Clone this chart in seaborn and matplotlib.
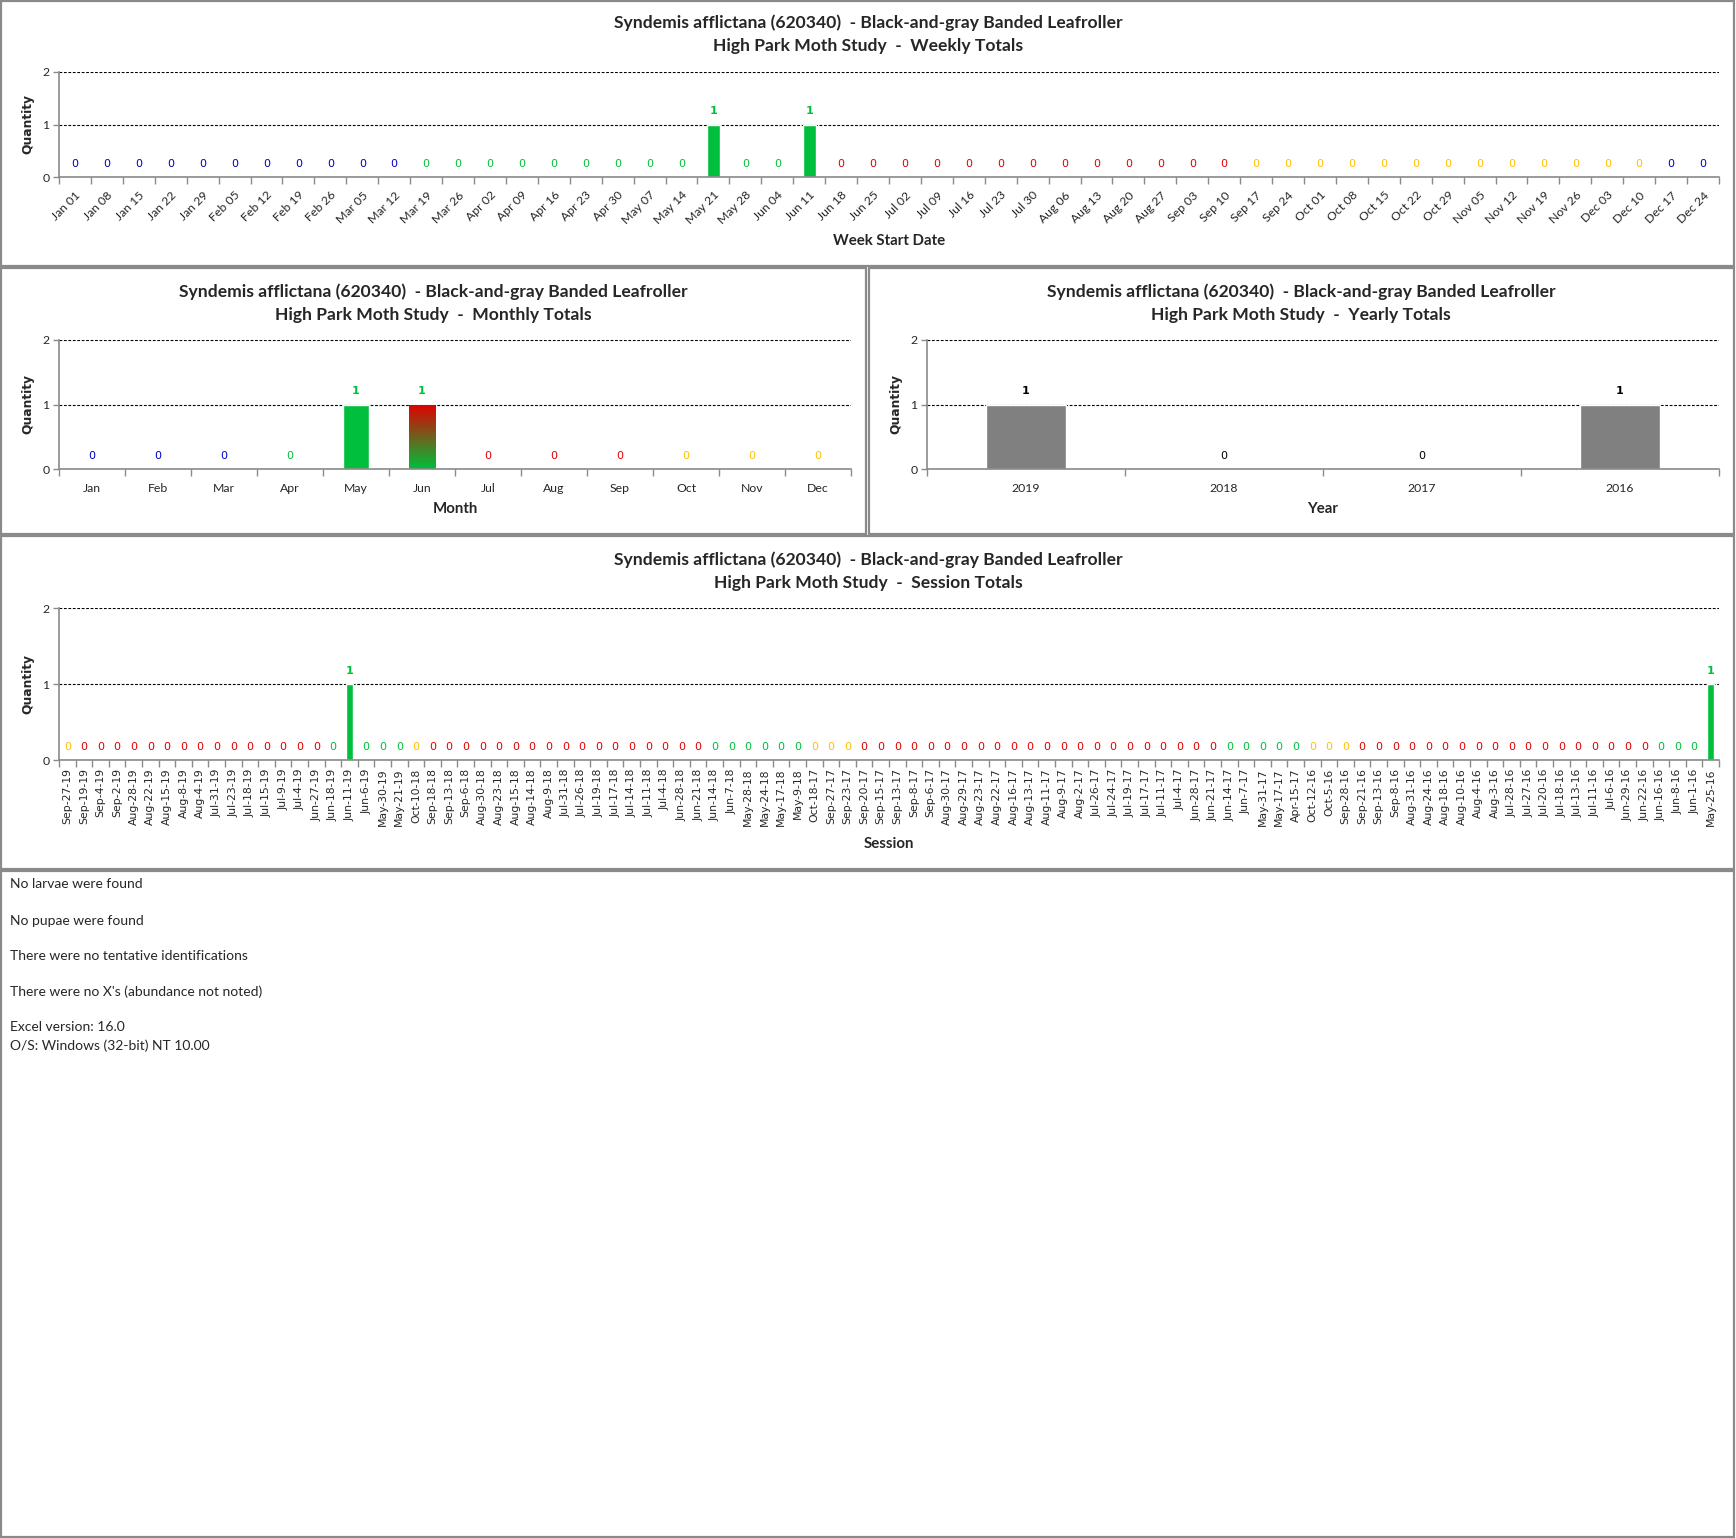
import datetime as dt
import numpy as np
import matplotlib
matplotlib.use("Agg")
import matplotlib.pyplot as plt
from matplotlib.colors import LinearSegmentedColormap
from matplotlib.patches import Rectangle
import seaborn as sns

# -------------------------
# Data
# -------------------------
title_1 = "Syndemis afflictana (620340)  - Black-and-gray Banded Leafroller"

week_labels = [
    "Jan 01", "Jan 08", "Jan 15", "Jan 22", "Jan 29", "Feb 05", "Feb 12", "Feb 19",
    "Feb 26", "Mar 05", "Mar 12", "Mar 19", "Mar 26", "Apr 02", "Apr 09", "Apr 16",
    "Apr 23", "Apr 30", "May 07", "May 14", "May 21", "May 28", "Jun 04", "Jun 11",
    "Jun 18", "Jun 25", "Jul 02", "Jul 09", "Jul 16", "Jul 23", "Jul 30", "Aug 06",
    "Aug 13", "Aug 20", "Aug 27", "Sep 03", "Sep 10", "Sep 17", "Sep 24", "Oct 01",
    "Oct 08", "Oct 15", "Oct 22", "Oct 29", "Nov 05", "Nov 12", "Nov 19", "Nov 26",
    "Dec 03", "Dec 10", "Dec 17", "Dec 24",
]
week_values = [0] * 52
week_values[week_labels.index("May 21")] = 1
week_values[week_labels.index("Jun 11")] = 1

month_labels = ["Jan", "Feb", "Mar", "Apr", "May", "Jun",
                "Jul", "Aug", "Sep", "Oct", "Nov", "Dec"]
month_values = [0, 0, 0, 0, 1, 1, 0, 0, 0, 0, 0, 0]

year_labels = ["2019", "2018", "2017", "2016"]
year_values = [1, 0, 0, 1]

session_labels = [
    "Sep-27-19", "Sep-19-19", "Sep-4-19", "Sep-2-19", "Aug-28-19", "Aug-22-19",
    "Aug-15-19", "Aug-8-19", "Aug-4-19", "Jul-31-19", "Jul-23-19", "Jul-18-19",
    "Jul-15-19", "Jul-9-19", "Jul-4-19", "Jun-27-19", "Jun-18-19", "Jun-11-19",
    "Jun-6-19", "May-30-19", "May-21-19", "Oct-10-18", "Sep-18-18", "Sep-13-18",
    "Sep-6-18", "Aug-30-18", "Aug-23-18", "Aug-15-18", "Aug-14-18", "Aug-9-18",
    "Jul-31-18", "Jul-26-18", "Jul-19-18", "Jul-17-18", "Jul-14-18", "Jul-11-18",
    "Jul-4-18", "Jun-28-18", "Jun-21-18", "Jun-14-18", "Jun-7-18", "May-28-18",
    "May-24-18", "May-17-18", "May-9-18", "Oct-18-17", "Sep-27-17", "Sep-23-17",
    "Sep-20-17", "Sep-15-17", "Sep-13-17", "Sep-8-17", "Sep-6-17", "Aug-30-17",
    "Aug-29-17", "Aug-23-17", "Aug-22-17", "Aug-16-17", "Aug-13-17", "Aug-11-17",
    "Aug-9-17", "Aug-2-17", "Jul-26-17", "Jul-24-17", "Jul-19-17", "Jul-17-17",
    "Jul-11-17", "Jul-4-17", "Jun-28-17", "Jun-21-17", "Jun-14-17", "Jun-7-17",
    "May-31-17", "May-17-17", "Apr-15-17", "Oct-12-16", "Oct-5-16", "Sep-28-16",
    "Sep-21-16", "Sep-13-16", "Sep-8-16", "Aug-31-16", "Aug-24-16", "Aug-18-16",
    "Aug-10-16", "Aug-4-16", "Aug-3-16", "Jul-28-16", "Jul-27-16", "Jul-20-16",
    "Jul-18-16", "Jul-13-16", "Jul-11-16", "Jul-6-16", "Jun-29-16", "Jun-22-16",
    "Jun-16-16", "Jun-8-16", "Jun-1-16", "May-25-16",
]
session_values = [0] * len(session_labels)
session_values[session_labels.index("Jun-11-19")] = 1
session_values[session_labels.index("May-25-16")] = 1

notes = [
    "No larvae were found",
    "No pupae were found",
    "There were no tentative identifications",
    "There were no X's (abundance not noted)",
]
versions = ["Excel version: 16.0", "O/S: Windows (32-bit) NT 10.00"]

# -------------------------
# Style
# -------------------------
BLUE, GREEN, RED, YELLOW = "#0000C8", "#00BF3C", "#E00000", "#FFC000"
SEASON_COLORS = [BLUE, GREEN, RED, YELLOW]
MONTHS = {m: i + 1 for i, m in enumerate(month_labels)}


def season(month, day):
    md = (month, day)
    if md < (3, 20):
        return BLUE
    if md < (6, 21):
        return GREEN
    if md < (9, 22):
        return RED
    if md < (12, 21):
        return YELLOW
    return BLUE


def week_color(label):
    m, d = label.split()
    end = dt.date(2018, MONTHS[m], int(d)) + dt.timedelta(days=6)
    return season(end.month, end.day)


def session_color(label):
    m, d, _ = label.split("-")
    return season(MONTHS[m], int(d))


week_colors = [week_color(w) for w in week_labels]
month_colors = [SEASON_COLORS[i // 3] for i in range(12)]
year_colors = ["#808080"] * 4
session_colors = [session_color(s) for s in session_labels]

sns.set_theme(style="white")
plt.rcParams["font.family"] = ["Lato", "DejaVu Sans"]

W, H = 1736, 1538
fig = plt.figure(figsize=(W / 100, H / 100), dpi=100)


def fbox(l, t, r, b):
    return [l / W, 1 - b / H, (r - l) / W, (b - t) / H]


def panel(l, t, r, b):
    fig.patches.append(Rectangle((l / W, 1 - b / H), (r - l) / W, (b - t) / H,
                                 transform=fig.transFigure, fill=False,
                                 edgecolor="#8a8a8a", lw=1.6))


def titles(cx, y1, subtitle):
    fig.text(cx / W, 1 - y1 / H, title_1, ha="center", va="center",
             fontsize=12.6, fontweight="bold")
    fig.text(cx / W, 1 - (y1 + 23) / H, "High Park Moth Study  -  " + subtitle,
             ha="center", va="center", fontsize=12.6, fontweight="bold")


def bar_chart(box, labels, values, colors, xlabel, xlabel_y, ylabel_x,
              rot=0, tick_font=None, tick_size=8.5, width=0.4, value_colors=None):
    ax = fig.add_axes(fbox(*box))
    sns.barplot(x=labels, y=values, hue=labels, palette=colors, legend=False,
                width=width, saturation=1, ax=ax, order=labels, hue_order=labels)
    n = len(labels)
    ax.set_xlim(-0.5, n - 0.5)
    ax.set_ylim(0, 2)
    ax.set_yticks([0, 1, 2])
    ax.set_yticklabels(["0", "1", "2"], fontsize=8.8)
    ax.yaxis.grid(True, color="black", ls=(0, (2.5, 1.5)), lw=0.8)
    ax.set_axisbelow(True)
    for s in ["top", "right"]:
        ax.spines[s].set_visible(False)
    for s in ["left", "bottom"]:
        ax.spines[s].set_color("#8a8a8a")
        ax.spines[s].set_linewidth(1.2)
    ax.set_xticks(np.arange(n))
    if rot == 45:
        ax.set_xticklabels(labels, rotation=45, ha="right", rotation_mode="anchor",
                           fontsize=tick_size, family=tick_font)
        ax.tick_params(axis="x", which="major", length=0, pad=9)
    elif rot == 90:
        ax.set_xticklabels(labels, rotation=90, fontsize=tick_size, family=tick_font)
        ax.tick_params(axis="x", which="major", length=0, pad=6)
    else:
        ax.set_xticklabels(labels, fontsize=tick_size, family=tick_font)
        ax.tick_params(axis="x", which="major", length=0, pad=10)
    ax.set_xticks(np.arange(n + 1) - 0.5, minor=True)
    ax.tick_params(axis="x", which="minor", length=5, width=1, color="#8a8a8a",
                   bottom=True, direction="out")
    ax.tick_params(axis="y", which="major", length=4, width=1, color="#8a8a8a",
                   left=True, direction="out", pad=3)
    ax.set_xlabel("")
    ax.set_ylabel("")
    vc = value_colors or colors
    for i, v in enumerate(values):
        ax.annotate(str(v), (i, v), xytext=(0, 9.5), textcoords="offset points",
                    ha="center", va="center", fontsize=8, color=vc[i],
                    family="DejaVu Sans", fontweight="bold" if v > 0 else "normal")
    cx = (box[0] + box[2]) / 2
    fig.text(cx / W, 1 - xlabel_y / H, xlabel, ha="center", va="center",
             fontsize=10.8, fontweight="bold")
    fig.text(ylabel_x / W, 1 - (box[1] + box[3]) / 2 / H, "Quantity", rotation=90,
             ha="center", va="center", fontsize=8.8, fontweight="bold",
             family="DejaVu Sans")
    return ax


# -------------------------
# Panels
# -------------------------
panel(1, 1, 1734, 266)
panel(1, 268, 866, 534)
panel(869, 268, 1734, 534)
panel(1, 536, 1734, 869)
panel(1, 871, 1734, 1537)

# Weekly
titles(868, 23, "Weekly Totals")
bar_chart((59, 72, 1719, 177), week_labels, week_values, week_colors,
          "Week Start Date", 241, 28, rot=45, tick_size=8.8)

# Monthly
titles(433, 292, "Monthly Totals")
ax_m = bar_chart((59, 340, 851, 469), month_labels, month_values, month_colors,
                 "Month", 509, 28, tick_size=8.8)
jun = month_labels.index("Jun")
for p in ax_m.patches:
    if abs(p.get_x() + p.get_width() / 2 - jun) < 0.01:
        grad_cmap = LinearSegmentedColormap.from_list("jun", [GREEN, RED])
        img = ax_m.imshow(np.linspace(0, 1, 100).reshape(-1, 1), cmap=grad_cmap,
                          origin="lower", aspect="auto", zorder=p.get_zorder() + 0.1,
                          extent=[p.get_x(), p.get_x() + p.get_width(), 0,
                                  month_values[jun]])
        img.set_clip_path(p)
ax_m.set_xlim(-0.5, 11.5)
ax_m.set_ylim(0, 2)

# Yearly
titles(1301, 292, "Yearly Totals")
bar_chart((927, 340, 1719, 469), year_labels, year_values, year_colors,
          "Year", 509, 896, value_colors=["black"] * 4, tick_size=8.8)

# Session
titles(868, 560, "Session Totals")
bar_chart((59, 608, 1719, 760), session_labels, session_values, session_colors,
          "Session", 844, 28, rot=90, tick_font="DejaVu Sans", tick_size=7.8,
          width=0.4)

# Notes
ys = [884, 921, 956, 992]
for y, t in zip(ys, notes):
    fig.text(10 / W, 1 - y / H, t, ha="left", va="center", fontsize=10)
for y, t in zip([1027, 1046], versions):
    fig.text(10 / W, 1 - y / H, t, ha="left", va="center", fontsize=10)

fig.savefig("out.png", dpi=100, facecolor="white")
